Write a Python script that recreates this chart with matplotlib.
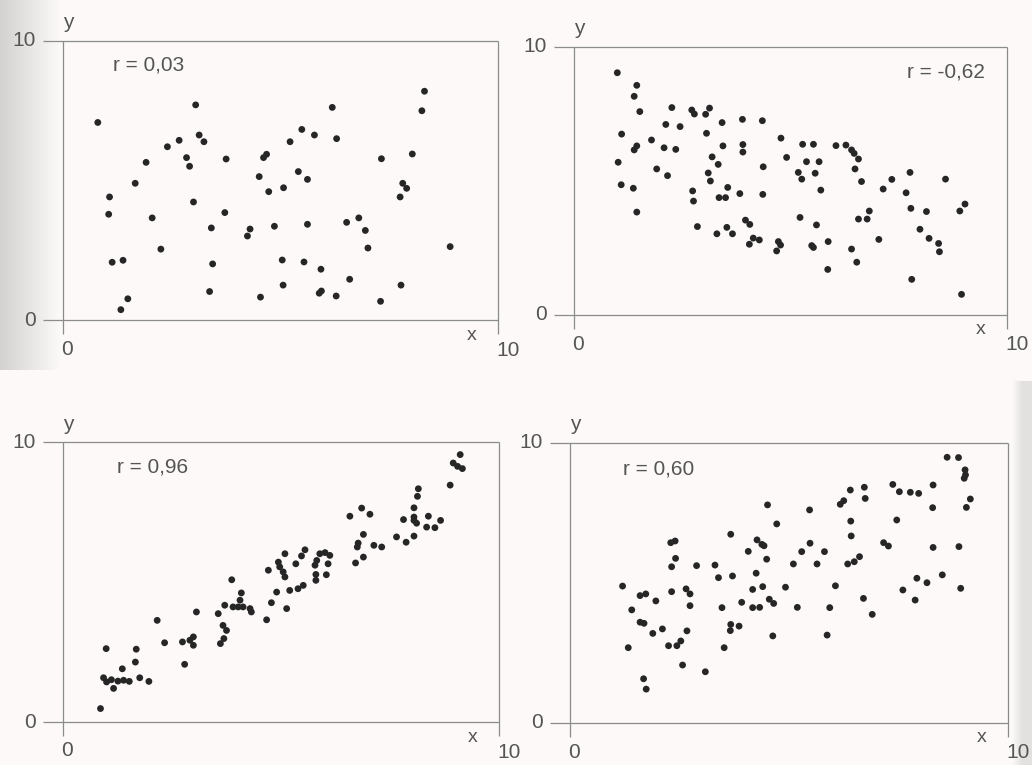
import matplotlib
matplotlib.use("Agg")
import matplotlib.pyplot as plt
import numpy as np

plt.rcParams['font.family'] = ['Liberation Sans', 'DejaVu Sans']

# ---------------- data ----------------
p1_x = [0.80, 3.05, 3.13, 3.24, 2.67, 2.40, 2.84, 2.91, 1.91, 1.66, 1.07, 1.05, 2.05, 3.00, 3.72, 3.75,
        3.41, 2.25, 1.13, 1.38, 1.49, 1.33, 3.44, 3.37, 4.30, 4.24, 4.51, 4.61, 4.68, 4.73, 5.07, 4.86,
        5.04, 5.06, 4.54,
        5.22, 5.49, 5.78, 6.19, 6.29, 5.41, 5.62, 5.62, 5.54, 5.93, 5.89, 5.94, 6.28, 6.59, 6.52, 6.80,
        6.95, 7.01, 7.32, 7.30, 7.77, 8.03, 7.81, 7.90, 7.75, 8.31, 8.25, 8.90]
p1_y = [7.08, 7.71, 6.63, 6.39, 6.44, 6.21, 5.82, 5.51, 5.65, 4.90, 4.41, 3.79, 3.66, 4.23, 3.85, 5.77,
        3.30, 2.54, 2.07, 2.14, 0.76, 0.37, 2.01, 1.02, 3.26, 3.01, 5.14, 5.82, 5.94, 4.60, 4.74, 3.36,
        2.15, 1.25, 0.82,
        6.39, 6.83, 6.63, 7.62, 6.50, 5.32, 5.04, 3.43, 2.08, 1.82, 0.96, 1.04, 0.86, 1.46, 3.50, 3.66,
        3.21, 2.58, 5.78, 0.67, 1.25, 5.95, 4.90, 4.72, 4.41, 8.20, 7.50, 2.63]

p2_x = [1.00, 1.45, 1.39, 1.52, 1.10, 1.02, 1.09, 1.37, 1.45, 1.45, 1.39, 1.79, 2.26, 2.12, 2.45, 2.08,
        2.35, 1.91, 2.16, 2.72, 2.78, 3.13, 3.04, 3.42, 3.06, 3.44, 3.19, 3.33, 3.10, 3.15, 3.55, 3.35,
        3.50, 2.74, 2.76, 2.85, 3.30, 3.53, 3.66, 3.89, 4.35, 3.90, 3.90, 4.37, 3.83, 4.36, 3.96, 4.06,
        4.14, 4.28, 4.05, 4.72, 4.77, 4.68, 4.78, 4.91,
        5.28, 5.53, 5.37, 5.66, 5.18, 5.26, 5.57, 5.70, 5.22, 5.60, 5.49, 5.53, 5.87, 5.86, 6.05, 6.28,
        6.41, 6.47, 6.57, 6.49, 6.64, 6.57, 6.77, 6.82, 6.41, 6.53, 7.04, 7.14, 7.34, 7.76, 7.67, 7.78,
        8.14, 7.99, 8.20, 8.42, 8.44, 7.80, 8.58, 8.91, 9.03, 8.95]
p2_y = [9.04, 8.57, 8.16, 7.59, 6.75, 5.70, 4.86, 4.73, 3.84, 6.31, 6.16, 6.53, 7.74, 7.11, 7.03, 6.24,
        6.18, 5.45, 5.20, 7.65, 7.50, 7.72, 7.49, 7.18, 6.78, 6.31, 5.90, 5.62, 5.30, 5.00, 4.76, 4.38,
        4.38, 4.63, 4.25, 3.30, 3.03, 3.27, 3.03, 7.30, 7.25, 6.36, 6.08, 5.53, 4.53, 4.50, 3.54, 3.38,
        2.87, 2.80, 2.64, 2.74, 2.61, 2.39, 6.60, 5.88,
        6.37, 6.37, 5.72, 5.72, 5.32, 5.07, 5.29, 4.66, 3.64, 3.36, 2.59, 2.52, 2.74, 1.70, 6.32, 6.34,
        6.16, 6.03, 5.82, 5.45, 4.98, 3.58, 3.58, 3.88, 2.46, 1.97, 2.82, 4.70, 5.06, 5.32, 4.56, 3.98,
        3.86, 3.20, 2.86, 2.67, 2.36, 1.33, 5.07, 3.88, 4.14, 0.77]

p3_x = [0.86, 0.99, 1.68, 1.66, 1.36, 0.93, 1.00, 1.11, 1.16, 1.26, 1.39, 1.52, 1.76, 1.97, 2.16, 2.33,
        2.79, 2.74, 2.91, 2.99, 2.99, 3.06, 3.56, 3.71, 3.67, 3.75, 3.69, 3.61, 3.87, 4.09, 4.06, 3.90,
        4.02, 4.13, 4.29, 4.32, 4.67, 4.78, 4.71, 4.90, 4.94, 4.97, 5.05, 5.09, 5.09, 5.13,
        5.20, 5.39, 5.51, 5.34, 5.47, 5.55, 5.78, 5.82, 5.89, 6.01, 6.12, 6.08, 5.80, 5.80, 6.04, 6.58,
        6.85, 7.04, 6.89, 6.77, 6.75, 7.13, 7.31, 6.89, 6.71, 7.65, 7.87, 8.05, 7.81, 8.05, 8.05, 8.05,
        8.11, 8.15, 8.13, 8.38, 8.34, 8.53, 8.66, 8.88, 9.11, 8.95, 9.05, 9.16]
p3_y = [0.48, 2.62, 2.60, 2.14, 1.90, 1.58, 1.43, 1.51, 1.20, 1.46, 1.49, 1.45, 1.58, 1.45, 3.63, 2.83,
        2.06, 2.86, 2.92, 3.04, 2.74, 3.93, 3.87, 4.17, 3.45, 3.27, 2.98, 2.80, 5.08, 4.61, 4.35, 4.11,
        4.11, 4.11, 4.05, 3.93, 3.65, 4.26, 5.42, 4.64, 5.71, 5.54, 5.36, 5.18, 6.01, 4.05,
        4.70, 4.76, 4.88, 5.65, 5.93, 6.15, 5.60, 5.77, 6.01, 6.05, 5.95, 5.65, 5.27, 5.06, 5.26, 7.35,
        7.64, 7.42, 6.70, 6.39, 6.25, 6.31, 6.25, 5.89, 5.68, 6.61, 6.42, 6.64, 7.23, 7.65, 7.32, 7.20,
        7.10, 8.33, 8.06, 7.35, 6.96, 6.94, 7.20, 8.46, 9.55, 9.25, 9.13, 9.05]

p4_x = [1.20, 1.60, 1.73, 1.96, 1.41, 1.60, 1.69, 1.89, 2.11, 1.33, 1.68, 1.74, 2.30, 2.40, 2.41, 2.32,
        2.32, 2.65, 2.74, 2.74, 2.67, 2.25, 2.44, 2.53, 2.57, 3.09, 2.89, 3.31, 3.39, 3.71, 3.47, 3.67,
        3.86, 3.66, 3.52, 3.67, 3.92, 4.07, 4.27, 4.38, 4.43, 4.49, 4.25, 4.17, 4.40, 4.17, 4.33, 4.55,
        4.65, 4.63, 4.51, 4.72, 4.92, 5.10, 5.19,
        5.29, 5.48, 5.47, 5.64, 5.81, 6.06, 5.93, 5.87, 6.17, 6.25, 6.40, 6.72, 6.74, 6.41, 6.42, 6.34,
        6.49, 6.61, 6.70, 6.90, 7.16, 7.27, 7.37, 7.52, 7.46, 7.77, 7.96, 8.29, 8.28, 8.29, 7.60, 7.92,
        8.15, 7.88, 8.50, 8.88, 8.92, 8.61, 8.87, 9.02, 9.03, 9.00, 9.14, 9.05]
p4_y = [4.89, 4.55, 4.61, 4.36, 4.04, 3.60, 3.56, 3.20, 3.36, 2.69, 1.58, 1.21, 6.44, 6.50, 5.88, 5.58,
        4.69, 4.79, 4.61, 4.19, 3.29, 2.76, 2.76, 2.93, 2.07, 1.83, 5.62, 5.64, 5.19, 5.25, 4.12, 3.52,
        3.46, 3.30, 2.69, 6.74, 4.31, 6.13, 6.54, 6.38, 6.33, 5.85, 5.35, 4.77, 4.87, 4.12, 4.13, 4.42,
        4.27, 3.11, 7.79, 7.11, 4.85, 5.68, 4.13,
        6.12, 6.42, 7.61, 5.68, 6.12, 4.90, 4.12, 3.14, 7.81, 7.94, 8.32, 8.42, 8.02, 7.21, 6.68, 5.68,
        5.76, 5.94, 4.45, 3.88, 6.44, 6.32, 8.52, 8.26, 7.25, 8.24, 8.20, 8.50, 7.69, 6.27, 4.75, 5.17,
        5.01, 4.39, 5.29, 6.30, 4.81, 9.49, 9.48, 9.04, 8.86, 8.74, 8.00, 7.70]

r_labels = ["r = 0,03", "r = -0,62", "r = 0,96", "r = 0,60"]
tick_min, tick_max = "0", "10"
axis_names = ("x", "y")

# ---------------- layout / style ----------------
W, H = 1032, 765
BG = '#fcfaf8'
DOT = '#262626'
TXT = '#555555'
LINE = '#8c8c8c'
FS = 15

fig = plt.figure(figsize=(W / 100, H / 100), dpi=100, facecolor=BG)

# faint scan shading of the printed page (left edge of upper half, right edge of lower half)
bg_ax = fig.add_axes([0, 0, 1, 1], zorder=-10)
bg_ax.axis('off')
cols = np.arange(W)[None, :]
rows = np.arange(H)[:, None]
shade = np.zeros((H, W))
shade += np.where(rows < 370, np.clip((60 - cols) / 60.0, 0, 1) * 0.16, 0)
shade += np.where(rows > 380, np.clip((cols - 1012) / 10.0, 0, 1) * 0.10, 0)
shade = np.clip(shade, 0, 1)
base = np.array([0xfc, 0xfa, 0xf8]) / 255.0
img = base[None, None, :] * (1 - shade[:, :, None])
bg_ax.imshow(img, aspect='auto', extent=(0, 1, 0, 1), interpolation='bilinear')
bg_ax.set_xlim(0, 1)
bg_ax.set_ylim(0, 1)

# axes frames in pixel coordinates: (left, top, right, bottom)
frames = [(63, 41, 498, 320), (574, 47, 1007, 315),
          (63, 442, 499, 722), (570, 443, 1008, 723)]
# r-label placement (data coords, alignment)
r_pos = [(1.15, 9.14, 'left'), (9.49, 9.08, 'right'), (1.23, 9.11, 'left'), (1.21, 9.07, 'left')]

panels = [(p1_x, p1_y), (p2_x, p2_y), (p3_x, p3_y), (p4_x, p4_y)]

for (l, t, r, b), (xs, ys), lab, (rx, ry, rha) in zip(frames, panels, r_labels, r_pos):
    ax = fig.add_axes([l / W, 1 - b / H, (r - l) / W, (b - t) / H])
    ax.set_xlim(0, 10)
    ax.set_ylim(0, 10)
    ax.axis('off')
    ax.patch.set_alpha(0)

    # frame lines with small protrusions, like the printed figure
    px_x = (r - l) / 10.0
    px_y = (b - t) / 10.0
    ext_x = 20 / px_x
    ext_y = 14 / px_y
    lw = 0.9
    ax.plot([-ext_x, 10], [0, 0], color=LINE, lw=lw, clip_on=False, solid_capstyle='butt')
    ax.plot([-ext_x, 10], [10, 10], color=LINE, lw=lw, clip_on=False, solid_capstyle='butt')
    ax.plot([0, 0], [-ext_y, 10], color=LINE, lw=lw, clip_on=False, solid_capstyle='butt')
    ax.plot([10, 10], [-ext_y, 10], color=LINE, lw=lw, clip_on=False, solid_capstyle='butt')

    ax.scatter(xs, ys, s=24, color=DOT, edgecolors='none', zorder=3, clip_on=False)

    ax.text(rx, ry, lab, ha=rha, va='center', fontsize=FS, color=TXT)

    # tick labels and axis names
    ax.annotate(tick_max, (0, 10), xytext=(-27, 0), textcoords='offset pixels',
                ha='right', va='center', fontsize=FS, color=TXT, annotation_clip=False)
    ax.annotate(tick_min, (0, 0), xytext=(-27, 0), textcoords='offset pixels',
                ha='right', va='center', fontsize=FS, color=TXT, annotation_clip=False)
    ax.annotate(tick_min, (0, 0), xytext=(4, -29), textcoords='offset pixels',
                ha='center', va='center', fontsize=FS, color=TXT, annotation_clip=False)
    ax.annotate(tick_max, (10, 0), xytext=(10, -30), textcoords='offset pixels',
                ha='center', va='center', fontsize=FS, color=TXT, annotation_clip=False)
    ax.annotate(axis_names[0], (10, 0), xytext=(-26, -15), textcoords='offset pixels',
                ha='center', va='center', fontsize=FS - 1, color=TXT, annotation_clip=False)
    ax.annotate(axis_names[1], (0, 10), xytext=(5, 18), textcoords='offset pixels',
                ha='center', va='center', fontsize=FS, color=TXT, annotation_clip=False)

fig.savefig('out.png', dpi=100, facecolor=BG)
